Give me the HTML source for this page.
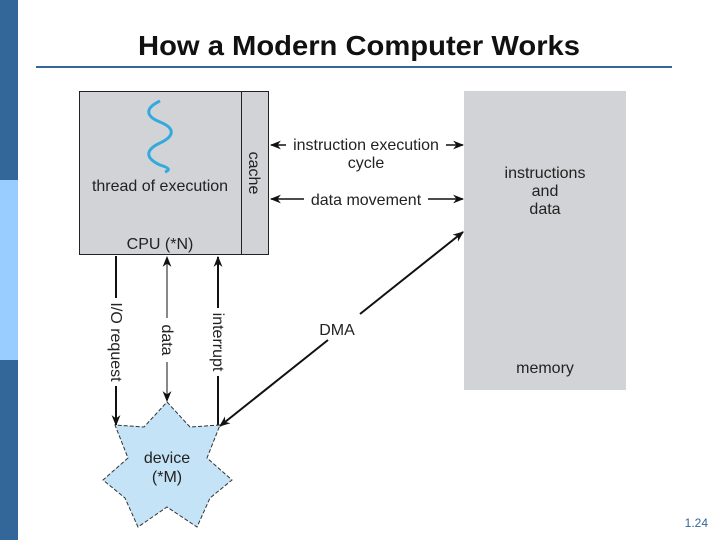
<!DOCTYPE html>
<html><head><meta charset="utf-8"><style>
body{margin:0;width:720px;height:540px;background:#fff;position:relative;overflow:hidden;font-family:"Liberation Sans",sans-serif}
</style></head><body>
<svg width="720" height="540" viewBox="0 0 720 540" xmlns="http://www.w3.org/2000/svg" style="position:absolute;left:0;top:0">
<defs>
<marker id="a" viewBox="0 0 10 10" refX="9" refY="5" markerWidth="11" markerHeight="11" markerUnits="userSpaceOnUse" orient="auto-start-reverse"><path d="M0,1 L10,5 L0,9 L3,5 z" fill="#111"/></marker>
</defs>
<rect x="0" y="0" width="18" height="180" fill="#336699"/>
<rect x="0" y="180" width="18" height="180" fill="#99ccff"/>
<rect x="0" y="360" width="18" height="180" fill="#336699"/>
<text x="359" y="55" text-anchor="middle" font-size="28" font-weight="bold" fill="#111" textLength="442" lengthAdjust="spacingAndGlyphs">How a Modern Computer Works</text>
<line x1="36" y1="67" x2="672" y2="67" stroke="#336699" stroke-width="2"/>
<rect x="79.5" y="91.5" width="189" height="163" fill="#d2d3d6" stroke="#222"/>
<line x1="241.5" y1="91" x2="241.5" y2="255" stroke="#222"/>
<path d="M160,101 C145,108 145,116 160,122 C175,128 175,136 160,143 C145,150 145,158 160,165 C170,168 170,170 165,172" fill="none" stroke="#33aadd" stroke-width="3"/>
<text x="160" y="191" text-anchor="middle" font-size="16" fill="#222">thread of execution</text>
<text x="160" y="249" text-anchor="middle" font-size="16" fill="#222">CPU (*N)</text>
<text transform="translate(249,173) rotate(90)" text-anchor="middle" font-size="16" fill="#222">cache</text>
<rect x="464" y="91" width="162" height="299" fill="#d2d3d6"/>
<text x="545" y="178" text-anchor="middle" font-size="16" fill="#222">instructions</text>
<text x="545" y="196" text-anchor="middle" font-size="16" fill="#222">and</text>
<text x="545" y="214" text-anchor="middle" font-size="16" fill="#222">data</text>
<text x="545" y="373" text-anchor="middle" font-size="16" fill="#222">memory</text>
<line x1="271" y1="145" x2="286" y2="145" stroke="#111" stroke-width="1.5" marker-start="url(#a)"/>
<line x1="446" y1="145" x2="463" y2="145" stroke="#111" stroke-width="1.5" marker-end="url(#a)"/>
<text x="366" y="150" text-anchor="middle" font-size="16" fill="#222">instruction execution</text>
<text x="366" y="168" text-anchor="middle" font-size="16" fill="#222">cycle</text>
<line x1="271" y1="199" x2="304" y2="199" stroke="#111" stroke-width="1.5" marker-start="url(#a)"/>
<line x1="428" y1="199" x2="463" y2="199" stroke="#111" stroke-width="1.5" marker-end="url(#a)"/>
<text x="366" y="205" text-anchor="middle" font-size="16" fill="#222">data movement</text>
<line x1="116" y1="256" x2="116" y2="298" stroke="#111" stroke-width="2"/>
<line x1="116" y1="386" x2="116" y2="425" stroke="#111" stroke-width="2" marker-end="url(#a)"/>
<text transform="translate(111,342) rotate(90)" text-anchor="middle" font-size="16" fill="#222">I/O request</text>
<line x1="167" y1="257" x2="167" y2="318" stroke="#111" stroke-width="1" marker-start="url(#a)"/>
<line x1="167" y1="362" x2="167" y2="401" stroke="#111" stroke-width="1" marker-end="url(#a)"/>
<text transform="translate(162,340) rotate(90)" text-anchor="middle" font-size="16" fill="#222">data</text>
<line x1="218" y1="257" x2="218" y2="308" stroke="#111" stroke-width="2" marker-start="url(#a)"/>
<line x1="218" y1="376" x2="218" y2="425" stroke="#111" stroke-width="2"/>
<text transform="translate(213,342) rotate(90)" text-anchor="middle" font-size="16" fill="#222">interrupt</text>
<line x1="220" y1="426" x2="328" y2="340" stroke="#111" stroke-width="2" marker-start="url(#a)"/>
<line x1="360" y1="314" x2="463" y2="232" stroke="#111" stroke-width="2" marker-end="url(#a)"/>
<text x="337" y="335" text-anchor="middle" font-size="16" fill="#222">DMA</text>
<polygon points="167,402 190,427 220,425 207,458 232,480 210,498 197,527 167,507 138,527 125,498 103,480 128,458 115,425 144,427" fill="#c4e3f6" stroke="#333" stroke-dasharray="4,2"/>
<text x="167" y="463" text-anchor="middle" font-size="16" fill="#222">device</text>
<text x="167" y="482" text-anchor="middle" font-size="16" fill="#222">(*M)</text>
<text x="708" y="527" text-anchor="end" font-size="12" fill="#336699">1.24</text>
</svg>
</body></html>
